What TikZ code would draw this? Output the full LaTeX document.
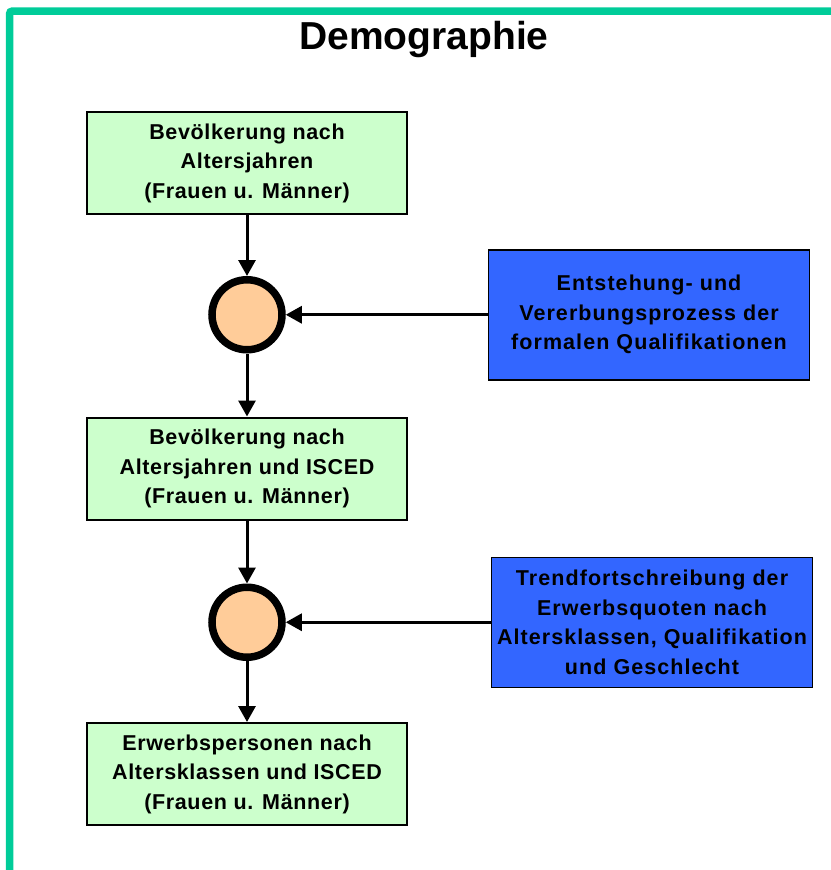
\documentclass[tikz,border=0pt]{standalone}
\usepackage{fontspec}
\setmainfont{Liberation Sans}
\newfontfamily\boxfont[LetterSpace=3]{Liberation Sans}
\newfontfamily\inputfont[LetterSpace=5]{Liberation Sans}
\usepackage{tikz}
\usetikzlibrary{arrows.meta,positioning}
\usepackage{xcolor}

\definecolor{framegreen}{HTML}{00CC99}
\definecolor{boxgreen}{HTML}{CCFFCC}
\definecolor{knotpeach}{HTML}{FFCC99}
\definecolor{inputblue}{HTML}{3366FF}

\tikzset{
  stock/.style={draw,line width=2pt,fill=boxgreen,minimum width=320pt,minimum height=102pt,
    align=center,font=\boxfont\fontsize{21.5}{29.5}\selectfont\bfseries},
  knot/.style={draw,circle,line width=7.5pt,fill=knotpeach,minimum size=70pt,inner sep=0pt},
  input/.style={draw,line width=1.5pt,fill=inputblue,minimum width=321pt,minimum height=130pt,
    align=center,font=\inputfont\fontsize{21.5}{29.5}\selectfont\bfseries},
  flow/.style={line width=3pt,-{Triangle[length=16pt,width=17pt]}}
}

\begin{document}
\begin{tikzpicture}[x=1pt,y=-1pt,auto,node distance=63pt]
  \useasboundingbox (0,0) rectangle (830,870);
  \draw[framegreen,line width=7.5pt,rounded corners=3pt] (9.5,11) rectangle (845,880);
  \node[font=\fontsize{39}{42}\selectfont\bfseries] (title) at (424,40) {Demographie};
  \node[stock] (pop1) at (247,163) {Bevölkerung nach\\Altersjahren\\(Frauen u. Männer)};
  \node[knot] (mix1) [below=61pt of pop1] {};
  \node[input] (qual) [right=202pt of mix1] {Entstehung- und\\Vererbungsprozess der\\formalen Qualifikationen};
  \node[stock] (pop2) [below=of mix1] {Bevölkerung nach\\Altersjahren und ISCED\\(Frauen u. Männer)};
  \node[knot] (mix2) [below=of pop2] {};
  \node[input] (quote) [right=205pt of mix2] {Trendfortschreibung der\\Erwerbsquoten nach\\Altersklassen, Qualifikation\\und Geschlecht};
  \node[stock] (work) [below=61pt of mix2] {Erwerbspersonen nach\\Altersklassen und ISCED\\(Frauen u. Männer)};
  \draw[flow] (pop1) -- (mix1);
  \draw[flow] (qual) -- (mix1);
  \draw[flow] (mix1) -- (pop2);
  \draw[flow] (pop2) -- (mix2);
  \draw[flow] (quote) -- (mix2);
  \draw[flow] (mix2) -- (work);
\end{tikzpicture}
\end{document}
